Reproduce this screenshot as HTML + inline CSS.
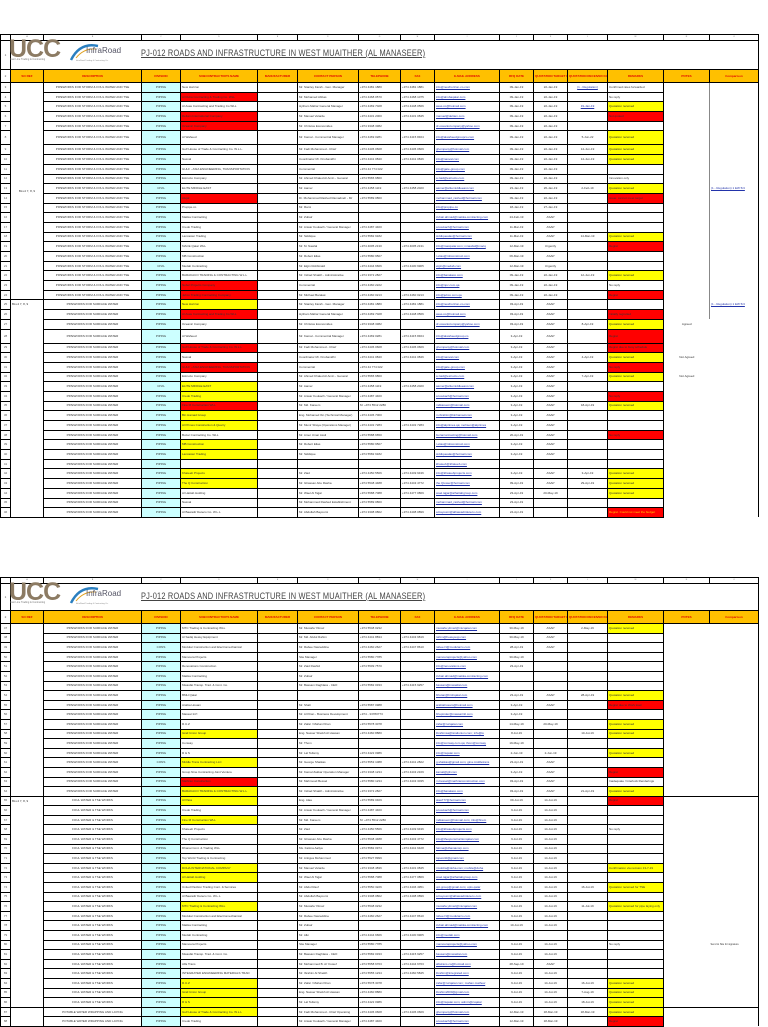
<!DOCTYPE html>
<html><head><meta charset="utf-8"><style>
*{margin:0;padding:0;box-sizing:border-box}
body{width:768px;height:1024px;background:#fff;position:relative;overflow:hidden;font-family:"Liberation Sans",sans-serif}
table{position:absolute;left:0;border-collapse:collapse;table-layout:fixed;width:758px}
td{border:1px solid #000;font-size:3px;line-height:3px;color:#333;white-space:nowrap;overflow:hidden;padding:0 1px;vertical-align:middle}
.c{text-align:center}
.y{background:#ffff00}.r{background:#ff0000}
.e{color:#2233aa;text-decoration:underline}
tr.l td{height:6px;font-size:2px;text-align:center;color:#666}
tr.t td{height:29px}
tr.h td{background:#ffc000;color:#e00000;text-align:center;font-weight:bold;height:13px}
tr.d{height:9.7px}
tr.k{height:14px}
tr.p{height:9.6px}
td.n{border-top:0 none;border-bottom:0 none;border-right:0 none}
td.o{border-top:0 none;border-bottom:0 none;border-left:0 none}
td.og{border-top:0 none;border-bottom:0 none;border-left:1px solid #888}
td.tb{border-top:1px solid #000}
.num{text-align:center;color:#555}
.logo{position:absolute}
.ttl{transform:scaleX(0.79);transform-origin:0 0}
</style></head><body>

<div class="logo" style="left:9px;top:37px;font:bold 25px/25px 'Liberation Sans',sans-serif;color:#8c7b63;letter-spacing:-1px;z-index:2">UCC</div>
<div class="logo" style="left:10px;top:58px;font-size:2.5px;color:#777;z-index:2">Fast Line Trading &amp; Contracting</div>
<svg class="logo" style="left:68px;top:40px;z-index:2" width="60" height="24"><path d="M3 20 Q12 2 30 6" stroke="#2a7fc0" stroke-width="2.5" fill="none"/><path d="M8 18 Q16 8 28 9" stroke="#e0a020" stroke-width="1" fill="none"/><text x="18" y="13" font-size="8" fill="#556" font-family="Liberation Sans">InfraRoad</text><text x="8" y="21" font-size="2" fill="#888" font-family="Liberation Sans">InfraRoad Trading &amp; Contracting Co.</text></svg>
<div class="logo ttl" style="left:141px;top:47px;font-size:9.4px;color:#444;text-decoration:underline;letter-spacing:0.25px;z-index:2;white-space:nowrap">PJ-012 ROADS AND INFRASTRUCTURE IN WEST MUAITHER (AL MANASEER)</div>

<div class="logo" style="left:9px;top:580px;font:bold 25px/25px 'Liberation Sans',sans-serif;color:#8c7b63;letter-spacing:-1px;z-index:2">UCC</div>
<div class="logo" style="left:10px;top:601px;font-size:2.5px;color:#777;z-index:2">Fast Line Trading &amp; Contracting</div>
<svg class="logo" style="left:68px;top:583px;z-index:2" width="60" height="24"><path d="M3 20 Q12 2 30 6" stroke="#2a7fc0" stroke-width="2.5" fill="none"/><path d="M8 18 Q16 8 28 9" stroke="#e0a020" stroke-width="1" fill="none"/><text x="18" y="13" font-size="8" fill="#556" font-family="Liberation Sans">InfraRoad</text><text x="8" y="21" font-size="2" fill="#888" font-family="Liberation Sans">InfraRoad Trading &amp; Contracting Co.</text></svg>
<div class="logo ttl" style="left:141px;top:590px;font-size:9.4px;color:#444;text-decoration:underline;letter-spacing:0.25px;z-index:2;white-space:nowrap">PJ-012 ROADS AND INFRASTRUCTURE IN WEST MUAITHER (AL MANASEER)</div>

<table style="top:34px">
<colgroup><col style="width:10px"><col style="width:33px"><col style="width:98px"><col style="width:39px;background:#ccffff"><col style="width:77px"><col style="width:40px"><col style="width:61px"><col style="width:42px"><col style="width:34px"><col style="width:65px"><col style="width:34px"><col style="width:34px"><col style="width:40px"><col style="width:56px"><col style="width:46px"><col style="width:49px"></colgroup>
<tr class="l"><td></td><td>A</td><td>B</td><td style="background:#fff">C</td><td>D</td><td>E</td><td>F</td><td>G</td><td>H</td><td>I</td><td>J</td><td>K</td><td>L</td><td>M</td><td>N</td><td>O</td></tr>
<tr class="t"><td class="num">1</td><td colspan="15" style="background:#fff"></td></tr>
<tr class="h"><td class="num" style="background:#fff;color:#555;font-weight:normal">2</td><td>SO REF</td><td>DESCRIPTION</td><td>DIVISION</td><td>SUBCONTRACTOR'S NAME</td><td>MANUFACTURER</td><td>CONTACT PERSON</td><td>TELEPHONE</td><td>FAX</td><td>E-MAIL ADDRESS</td><td>RFQ DATE</td><td>QUOTATION TARGET DATE</td><td>QUOTATION RECEIVED DATE</td><td>REMARKS</td><td>POTES</td><td>Comparison</td></tr>
<tr class="d"><td class="num">3</td><td rowspan="22" class="c">BLL4 7, 8, 9</td><td class="c">PIPEWORKS FOR STORM &amp; FOUL WATER AND TSE</td><td class="c">PIPING</td><td>New Horizon</td><td></td><td>Mr. Stanley Farah - Gen. Manager</td><td>+974 4481 1880</td><td>+974 4481 1881</td><td class="e">info@newhorizon-co.com</td><td class="c">09-Jan-19</td><td class="c">22-Jan-19</td><td class="c e">(1 - Regulation)</td><td>Confirmed rates forwarded</td><td class="n"></td><td class="og"></td></tr>
<tr class="d"><td class="num">4</td><td class="c">PIPEWORKS FOR STORM &amp; FOUL WATER AND TSE</td><td class="c">PIPING</td><td class="r">Al Ruba Contracting &amp; Trading Co. WLL</td><td></td><td>Mr. Mohamed Abbas</td><td>+974 4468 0570</td><td>+974 4468 1075</td><td class="e">info@alrubaqatar.com</td><td class="c">09-Jan-19</td><td class="c">22-Jan-19</td><td></td><td>No reply</td><td class="n"></td><td class="og"></td></tr>
<tr class="d"><td class="num">5</td><td class="c">PIPEWORKS FOR STORM &amp; FOUL WATER AND TSE</td><td class="c">PIPING</td><td>Al Asas Contracting and Trading Co WLL</td><td></td><td>Hytham Mahar General Manager</td><td>+974 4469 7028</td><td>+974 4448 0566</td><td class="e">asas.co@hotmail.com</td><td class="c">09-Jan-19</td><td class="c">22-Jan-19</td><td class="c e">19-Jan-19</td><td class="y">Quotation received</td><td class="n"></td><td class="og"></td></tr>
<tr class="d"><td class="num">6</td><td class="c">PIPEWORKS FOR STORM &amp; FOUL WATER AND TSE</td><td class="c">PIPING</td><td class="r">Deltam International Company</td><td></td><td>Mr. Manuel Velarde</td><td>+974 4431 2000</td><td>+974 4431 0845</td><td class="e">manuel@deltam.com</td><td class="c">09-Jan-19</td><td class="c">22-Jan-19</td><td></td><td class="r">Not quoted</td><td class="n"></td><td class="og"></td></tr>
<tr class="d"><td class="num">7</td><td class="c">PIPEWORKS FOR STORM &amp; FOUL WATER AND TSE</td><td class="c">PIPING</td><td class="r">Oceanic Company</td><td></td><td>Mr. Christos Economides</td><td>+974 3348 3382</td><td></td><td class="e">dr.oceaniccompany@yahoo.com</td><td class="c">09-Jan-19</td><td class="c">22-Jan-19</td><td></td><td></td><td class="n"></td><td class="og"></td></tr>
<tr class="k"><td class="num">8</td><td class="c">PIPEWORKS FOR STORM &amp; FOUL WATER AND TSE</td><td class="c">PIPING</td><td>Al Waheed</td><td></td><td>Mr. Kamal - Commercial Manager</td><td>+974 4469 0281</td><td>+974 4415 8464</td><td class="e">info@alwaheedgroupco.com</td><td class="c">09-Jan-19</td><td class="c">22-Jan-19</td><td class="c">5-Jun-22</td><td class="y">Quotation received</td><td class="n"></td><td class="og"></td></tr>
<tr class="d"><td class="num">9</td><td class="c">PIPEWORKS FOR STORM &amp; FOUL WATER AND TSE</td><td class="c">PIPING</td><td>Gulf House of Trade &amp; Contracting Co. W.L.L.</td><td></td><td>Mr. Fadi Mohammed - Chief</td><td>+974 4436 0608</td><td>+974 4436 0609</td><td class="e">ghompany@hotmail.com</td><td class="c">09-Jan-19</td><td class="c">22-Jan-19</td><td class="c">14-Jun-19</td><td class="y">Quotation received</td><td class="n"></td><td class="og"></td></tr>
<tr class="d"><td class="num">10</td><td class="c">PIPEWORKS FOR STORM &amp; FOUL WATER AND TSE</td><td class="c">PIPING</td><td>Nasval</td><td></td><td>Coordinator Mr. Kirubanidhi</td><td>+974 4441 0840</td><td>+974 4441 0846</td><td class="e">info@nasval.com</td><td class="c">09-Jan-19</td><td class="c">22-Jan-19</td><td class="c">14-Jun-19</td><td class="y">Quotation received</td><td class="n"></td><td class="og"></td></tr>
<tr class="d"><td class="num">11</td><td class="c">PIPEWORKS FOR STORM &amp; FOUL WATER AND TSE</td><td class="c">PIPING</td><td>GULF - ASIA ENGINEERING, TRANSPORTATION</td><td></td><td>Commercial</td><td>+974 44 774 022</td><td></td><td class="e">info@gate-group.com</td><td class="c">09-Jan-19</td><td class="c">22-Jan-19</td><td></td><td></td><td class="n"></td><td class="og"></td></tr>
<tr class="d"><td class="num">12</td><td class="c">PIPEWORKS FOR STORM &amp; FOUL WATER AND TSE</td><td class="c">PIPING</td><td>Estructo Company</td><td></td><td>Mr. Ahmed Khaled Al Amin - General</td><td>+974 5565 6860</td><td></td><td class="e">a.zaid@estructo.com</td><td class="c">09-Jan-19</td><td class="c">22-Jan-19</td><td></td><td>Innovation only</td><td class="n"></td><td class="og"></td></tr>
<tr class="d"><td class="num">13</td><td class="c">PIPEWORKS FOR STORM &amp; FOUL WATER AND TSE</td><td class="c">CIVIL</td><td>ELITE MIDDLE EAST</td><td></td><td>Mr. Aamer</td><td>+974 4458 1119</td><td>+974 4458 2020</td><td class="e">aamer@elitemiddleeast.com</td><td class="c">23-Jan-19</td><td class="c">26-Jan-19</td><td class="c">2-Feb-19</td><td class="y">Quotation received</td><td class="n"></td><td class="og e">(1 - Regulation) 1 EW 5/4</td></tr>
<tr class="d"><td class="num">14</td><td class="c">PIPEWORKS FOR STORM &amp; FOUL WATER AND TSE</td><td class="c">PIPING</td><td class="r">Alujal</td><td></td><td>Dr. Mohammad Rashed Ramadneh - Mr</td><td>+974 5589 0860</td><td></td><td class="e">mohammad_rashed@hotmail.com</td><td class="c">09-Jan-19</td><td class="c">22-Jan-19</td><td></td><td class="r">Issue: cannot meet target</td><td class="n"></td><td class="og"></td></tr>
<tr class="d"><td class="num">15</td><td class="c">PIPEWORKS FOR STORM &amp; FOUL WATER AND TSE</td><td class="c">PIPING</td><td>Propipe.co</td><td></td><td>Mr. Rami</td><td></td><td></td><td class="e">info@propipe.co</td><td class="c">18-Jan-19</td><td class="c">27-Jan-19</td><td></td><td></td><td class="n"></td><td class="og"></td></tr>
<tr class="d"><td class="num">16</td><td class="c">PIPEWORKS FOR STORM &amp; FOUL WATER AND TSE</td><td class="c">PIPING</td><td>Makka Contracting</td><td></td><td>Mr. Zubair</td><td></td><td></td><td class="e">zubair.ahmad@makka-contracting.com</td><td class="c">24-Feb-19</td><td class="c">ASAP</td><td></td><td></td><td class="n"></td><td class="og"></td></tr>
<tr class="d"><td class="num">17</td><td class="c">PIPEWORKS FOR STORM &amp; FOUL WATER AND TSE</td><td class="c">PIPING</td><td>Credo Trading</td><td></td><td>Mr. Anwar Koukach / General Manager</td><td>+974 4487 4400</td><td></td><td class="e">a.koukach@hotmail.com</td><td class="c">11-Mar-19</td><td class="c">ASAP</td><td></td><td></td><td class="n"></td><td class="og"></td></tr>
<tr class="d"><td class="num">18</td><td class="c">PIPEWORKS FOR STORM &amp; FOUL WATER AND TSE</td><td class="c">PIPING</td><td>Lancaster Trading</td><td></td><td>Mr. Siddique</td><td>+974 5582 9182</td><td></td><td class="e">siddiquealav@hotmail.com</td><td class="c">11-Mar-19</td><td class="c">ASAP</td><td class="c">14-Mar-19</td><td class="y">Quotation received</td><td class="n"></td><td class="og"></td></tr>
<tr class="d"><td class="num">19</td><td class="c">PIPEWORKS FOR STORM &amp; FOUL WATER AND TSE</td><td class="c">PIPING</td><td>MACE Qatar WLL</td><td></td><td>Mr. M. Nawlal</td><td>+974 4005 2130</td><td>+974 4005 2131</td><td class="e">info@macqatar.com; mnawlal@macq</td><td class="c">12-Mar-19</td><td class="c">Urgently</td><td></td><td class="r">Regret</td><td class="n"></td><td class="og"></td></tr>
<tr class="d"><td class="num">20</td><td class="c">PIPEWORKS FOR STORM &amp; FOUL WATER AND TSE</td><td class="c">PIPING</td><td>MB Construction</td><td></td><td>Mr. Robert Elias</td><td>+974 5580 9507</td><td></td><td class="e">r.elias@mbconstruct.com</td><td class="c">06-Mar-19</td><td class="c">ASAP</td><td></td><td></td><td class="n"></td><td class="og"></td></tr>
<tr class="d"><td class="num">21</td><td class="c">PIPEWORKS FOR STORM &amp; FOUL WATER AND TSE</td><td class="c">CIVIL</td><td>Medab Contracting</td><td></td><td>Mr. Elgin Robbinald</td><td>+974 4444 6666</td><td>+974 4430 9905</td><td class="e">elgin@medab.com</td><td class="c">12-Mar-19</td><td class="c">Urgently</td><td></td><td></td><td class="n"></td><td class="og"></td></tr>
<tr class="d"><td class="num">22</td><td class="c">PIPEWORKS FOR STORM &amp; FOUL WATER AND TSE</td><td class="c">PIPING</td><td>BARAKACO TRADING &amp; CONTRACTING W.L.L</td><td></td><td>Mr. Irshad Shaikh - Administrative</td><td>+974 3372 2827</td><td></td><td class="e">info@barakaco.com</td><td class="c">09-Jan-19</td><td class="c">22-Jan-19</td><td class="c">12-Jun-19</td><td class="y">Quotation received</td><td class="n"></td><td class="og"></td></tr>
<tr class="d"><td class="num">23</td><td class="c">PIPEWORKS FOR STORM &amp; FOUL WATER AND TSE</td><td class="c">PIPING</td><td class="r">Nobel Projects Company</td><td></td><td>Commercial</td><td>+974 4460 2222</td><td></td><td class="e">info@npc.com.qa</td><td class="c">09-Jan-19</td><td class="c">22-Jan-19</td><td></td><td>No reply</td><td class="n"></td><td class="og"></td></tr>
<tr class="d"><td class="num">24</td><td class="c">PIPEWORKS FOR STORM &amp; FOUL WATER AND TSE</td><td class="c">PIPING</td><td class="r">Jebco Trading Contracting Company</td><td></td><td>Mr. Michael Barakat</td><td>+974 4460 0213</td><td>+974 4460 0213</td><td class="e">info@jebco.com.qa</td><td class="c">09-Jan-19</td><td class="c">22-Jan-19</td><td></td><td class="r">Regret</td><td class="n"></td><td class="og"></td></tr>
<tr class="d"><td class="num">25</td><td rowspan="22" style="vertical-align:top;padding-top:3px">BLL4 7, 8, 9</td><td class="c">PIPEWORKS FOR SURFACE WATER</td><td class="c">PIPING</td><td class="y">New Horizon</td><td></td><td>Mr. Stanley Farah - Gen. Manager</td><td>+974 4481 1880</td><td>+974 4481 1881</td><td class="e">info@newhorizon-co.com</td><td class="c">03-Apr-19</td><td class="c">ASAP</td><td></td><td></td><td class="n"></td><td class="og e">(1 - Regulation) 1 EW 5/4</td></tr>
<tr class="d"><td class="num">26</td><td class="c">PIPEWORKS FOR SURFACE WATER</td><td class="c">PIPING</td><td class="r">Al Asas Contracting and Trading Co WLL</td><td></td><td>Hytham Mahar General Manager</td><td>+974 4469 7028</td><td>+974 4448 0566</td><td class="e">asas.co@hotmail.com</td><td class="c">03-Apr-19</td><td class="c">ASAP</td><td></td><td class="r">Initially regretted</td><td class="n"></td><td class="og"></td></tr>
<tr class="d"><td class="num">27</td><td class="c">PIPEWORKS FOR SURFACE WATER</td><td class="c">PIPING</td><td>Oceanic Company</td><td></td><td>Mr. Christos Economides</td><td>+974 3348 3382</td><td></td><td class="e">dr.oceaniccompany@yahoo.com</td><td class="c">03-Apr-19</td><td class="c">ASAP</td><td class="c">8-Apr-19</td><td class="y">Quotation received</td><td class="n c">Agreed</td><td class="o"></td></tr>
<tr class="k"><td class="num">28</td><td class="c">PIPEWORKS FOR SURFACE WATER</td><td class="c">PIPING</td><td>Al Waheed</td><td></td><td>Mr. Kamal - Commercial Manager</td><td>+974 4469 0281</td><td>+974 4415 8464</td><td class="e">info@alwaheedgroup.co</td><td class="c">3-Apr-19</td><td class="c">ASAP</td><td></td><td class="r">Regret</td><td class="n"></td><td class="o"></td></tr>
<tr class="d"><td class="num">29</td><td class="c">PIPEWORKS FOR SURFACE WATER</td><td class="c">PIPING</td><td class="r">Gulf House of Trade &amp; Contracting Co. W.L.L</td><td></td><td>Mr. Fadi Mohammed - Chief</td><td>+974 4436 0608</td><td>+974 4436 0609</td><td class="e">ghompany@hotmail.com</td><td class="c">3-Apr-19</td><td class="c">ASAP</td><td></td><td class="r">Regret due to busy schedule</td><td class="n"></td><td class="o"></td></tr>
<tr class="d"><td class="num">30</td><td class="c">PIPEWORKS FOR SURFACE WATER</td><td class="c">PIPING</td><td>Nasval</td><td></td><td>Coordinator Mr. Kirubanidhi</td><td>+974 4441 0840</td><td>+974 4441 0846</td><td class="e">info@nasval.com</td><td class="c">3-Apr-19</td><td class="c">ASAP</td><td class="c">4-Apr-19</td><td class="y">Quotation received</td><td class="n c">Not Agreed</td><td class="o"></td></tr>
<tr class="d"><td class="num">31</td><td class="c">PIPEWORKS FOR SURFACE WATER</td><td class="c">PIPING</td><td class="r">GULF - ASIA ENGINEERING, TRANSPORTATION</td><td></td><td>Commercial</td><td>+974 44 774 022</td><td></td><td class="e">info@gate-group.com</td><td class="c">3-Apr-19</td><td class="c">ASAP</td><td></td><td class="r">No reply</td><td class="n"></td><td class="o"></td></tr>
<tr class="d"><td class="num">32</td><td class="c">PIPEWORKS FOR SURFACE WATER</td><td class="c">PIPING</td><td>Estructo Company</td><td></td><td>Mr. Ahmed Khaled Al Amin - General</td><td>+974 5565 6860</td><td></td><td class="e">a.zaid@estructo.com</td><td class="c">3-Apr-19</td><td class="c">ASAP</td><td class="c">7-Apr-19</td><td class="y">Quotation received</td><td class="n c">Not Agreed</td><td class="o"></td></tr>
<tr class="d"><td class="num">33</td><td class="c">PIPEWORKS FOR SURFACE WATER</td><td class="c">CIVIL</td><td class="y">ELITE MIDDLE EAST</td><td></td><td>Mr. Aamer</td><td>+974 4458 1119</td><td>+974 4458 2020</td><td class="e">aamer@elitemiddleeast.com</td><td class="c">3-Apr-19</td><td class="c">ASAP</td><td></td><td></td><td class="n"></td><td class="o"></td></tr>
<tr class="d"><td class="num">34</td><td class="c">PIPEWORKS FOR SURFACE WATER</td><td class="c">PIPING</td><td class="y">Credo Trading</td><td></td><td>Mr. Anwar Koukach / General Manager</td><td>+974 4487 4400</td><td></td><td class="e">a.koukach@hotmail.com</td><td class="c">3-Apr-19</td><td class="c">ASAP</td><td></td><td class="r">No reply</td><td class="n"></td><td class="o"></td></tr>
<tr class="d"><td class="num">35</td><td class="c">PIPEWORKS FOR SURFACE WATER</td><td class="c">PIPING</td><td class="r">Fine M Construction WLL</td><td></td><td>Mr. Md. Kareem</td><td>M: +974 5512 2280</td><td></td><td class="e">mdkareem@hotmail.com</td><td class="c">3-Apr-19</td><td class="c">ASAP</td><td class="c">18-Apr-19</td><td class="y">Quotation received</td><td class="n"></td><td class="o"></td></tr>
<tr class="d"><td class="num">36</td><td class="c">PIPEWORKS FOR SURFACE WATER</td><td class="c">PIPING</td><td class="y">Bin Hamad Group</td><td></td><td>Eng. Mohamed Ibn (Technical Manager)</td><td>+974 4436 7000</td><td></td><td class="e">m.ibrahim@binhamad.com</td><td class="c">3-Apr-19</td><td class="c">ASAP</td><td></td><td></td><td class="n"></td><td class="o"></td></tr>
<tr class="d"><td class="num">37</td><td class="c">PIPEWORKS FOR SURFACE WATER</td><td class="c">PIPING</td><td class="y">Al Primes Construction &amp; Quarry</td><td></td><td>Mr. Munir Shaya (Operations Manager)</td><td>+974 4432 7283</td><td>+974 4432 7283</td><td class="e">info@alprimes.qa; mohsen@alprimes</td><td class="c">3-Apr-19</td><td class="c">ASAP</td><td></td><td></td><td class="n"></td><td class="o"></td></tr>
<tr class="d"><td class="num">38</td><td class="c">PIPEWORKS FOR SURFACE WATER</td><td class="c">PIPING</td><td>Buzar Contracting Co. WLL</td><td></td><td>Mr. Amer Umar Assil</td><td>+974 5588 6650</td><td></td><td class="e">buzarcontracting@hotmail.com</td><td class="c">20-Apr-19</td><td class="c">ASAP</td><td></td><td class="r">No reply</td><td class="n"></td><td class="o"></td></tr>
<tr class="d"><td class="num">39</td><td class="c">PIPEWORKS FOR SURFACE WATER</td><td class="c">PIPING</td><td class="y">MB Construction</td><td></td><td>Mr. Robert Elias</td><td>+974 5580 9507</td><td></td><td class="e">r.elias@mbconstruct.com</td><td class="c">3-Apr-19</td><td class="c">ASAP</td><td></td><td></td><td class="n"></td><td class="o"></td></tr>
<tr class="d"><td class="num">40</td><td class="c">PIPEWORKS FOR SURFACE WATER</td><td class="c">PIPING</td><td class="y">Lancaster Trading</td><td></td><td>Mr. Siddique</td><td>+974 5582 9182</td><td></td><td class="e">siddiquealav@hotmail.com</td><td class="c">3-Apr-19</td><td class="c">ASAP</td><td></td><td></td><td class="n"></td><td class="o"></td></tr>
<tr class="d"><td class="num">41</td><td class="c">PIPEWORKS FOR SURFACE WATER</td><td class="c">PIPING</td><td></td><td></td><td></td><td></td><td></td><td class="e">khateeb@khateeb.com</td><td></td><td></td><td></td><td></td><td class="n"></td><td class="o"></td></tr>
<tr class="d"><td class="num">42</td><td class="c">PIPEWORKS FOR SURFACE WATER</td><td class="c">PIPING</td><td class="y">Khateeb Projects</td><td></td><td>Mr. Ziad</td><td>+974 4450 5566</td><td>+974 4449 9436</td><td class="e">info@khateebprojects.com</td><td class="c">3-Apr-19</td><td class="c">ASAP</td><td class="c">3-Apr-19</td><td class="y">Quotation received</td><td class="n"></td><td class="o"></td></tr>
<tr class="d"><td class="num">43</td><td class="c">PIPEWORKS FOR SURFACE WATER</td><td class="c">PIPING</td><td class="y">The Q Construction</td><td></td><td>Mr. Ghassan Abu Rasha</td><td>+974 5548 4488</td><td>+974 4443 4772</td><td class="e">the.Qtower@hotmail.com</td><td class="c">09-Apr-19</td><td class="c">ASAP</td><td class="c">29-Apr-19</td><td class="y">Quotation received</td><td class="n"></td><td class="o"></td></tr>
<tr class="d"><td class="num">44</td><td class="c">PIPEWORKS FOR SURFACE WATER</td><td class="c">PIPING</td><td>Al Hattab Holding</td><td></td><td>Mr. Wael Al Tajjar</td><td>+974 5588 7088</td><td>+974 4477 0869</td><td class="e">wael.tajjar@alhattabgroup.com</td><td class="c">23-Apr-19</td><td class="c">20-May-19</td><td></td><td class="y">Quotation received</td><td class="n"></td><td class="o"></td></tr>
<tr class="d"><td class="num">45</td><td class="c">PIPEWORKS FOR SURFACE WATER</td><td class="c">PIPING</td><td>Nasval</td><td></td><td>Mr. Mohammed Rashed Establishment</td><td>+974 5589 0860</td><td></td><td class="e">mohammad_rashed@hotmail.com</td><td class="c">23-Apr-19</td><td></td><td></td><td></td><td class="n"></td><td class="o"></td></tr>
<tr class="d"><td class="num">46</td><td class="c">PIPEWORKS FOR SURFACE WATER</td><td class="c">PIPING</td><td>Al Bawadir Deteco Co. W.L.L</td><td></td><td>Mr. Abdullah Bayoumi</td><td>+974 3308 0802</td><td>+974 4408 0899</td><td class="e">a.bayoumi@albawadirdeteco.com</td><td class="c">24-Apr-19</td><td></td><td></td><td class="r" style="color:#ffd000">Regret. Could not meet the budget</td><td class="n"></td><td class="o"></td></tr>
</table>

<table style="top:577px">
<colgroup><col style="width:10px"><col style="width:33px"><col style="width:98px"><col style="width:39px;background:#ccffff"><col style="width:77px"><col style="width:40px"><col style="width:61px"><col style="width:42px"><col style="width:34px"><col style="width:65px"><col style="width:34px"><col style="width:34px"><col style="width:40px"><col style="width:56px"><col style="width:46px"><col style="width:49px"></colgroup>
<tr class="l"><td></td><td>A</td><td>B</td><td style="background:#fff">C</td><td>D</td><td>E</td><td>F</td><td>G</td><td>H</td><td>I</td><td>J</td><td>K</td><td>L</td><td>M</td><td>N</td><td>O</td></tr>
<tr class="t" style="height:27px"><td class="num" style="height:27px">1</td><td colspan="15" style="background:#fff;height:27px"></td></tr>
<tr class="h"><td class="num" style="background:#fff;color:#555;font-weight:normal;height:12px">2</td><td style="height:12px">SO REF</td><td>DESCRIPTION</td><td>DIVISION</td><td>SUBCONTRACTOR'S NAME</td><td>MANUFACTURER</td><td>CONTACT PERSON</td><td>TELEPHONE</td><td>FAX</td><td>E-MAIL ADDRESS</td><td>RFQ DATE</td><td>QUOTATION TARGET DATE</td><td>QUOTATION RECEIVED DATE</td><td>REMARKS</td><td>POTES</td><td>Comparison</td></tr>
<tr class="p"><td class="num">47</td><td rowspan="18"></td><td class="c">PIPEWORKS FOR SURFACE WATER</td><td class="c">PIPING</td><td>MTC Trading &amp; Contracting WLL</td><td></td><td>Mr. Mustafa Yilmaz</td><td>+974 5548 0232</td><td></td><td class="e">mustafa.yilmaz@mtcqatar.com</td><td class="c">30-May-19</td><td class="c">ASAP</td><td class="c">2-May-19</td><td class="y">Quotation received</td><td class="n"></td><td class="o"></td></tr>
<tr class="p"><td class="num">48</td><td class="c">PIPEWORKS FOR SURFACE WATER</td><td class="c">PIPING</td><td>Al Sadiq Heavy Equipment</td><td></td><td>Mr. Md. Abdul Rahim</td><td>+974 4441 8834</td><td>+974 4443 9819</td><td class="e">rahim@heavyeqp.com</td><td class="c">30-May-19</td><td class="c">ASAP</td><td></td><td></td><td class="n"></td><td class="o"></td></tr>
<tr class="p"><td class="num">49</td><td class="c">PIPEWORKS FOR SURFACE WATER</td><td class="c">CONS</td><td>Modular Construction and Electromechanical</td><td></td><td>Mr. Rabee Nasreddine</td><td>+974 4460 2627</td><td>+974 4447 8610</td><td class="e">rabee.N@modularco.com</td><td class="c">28-Apr-19</td><td class="c">ASAP</td><td></td><td></td><td class="n"></td><td class="o"></td></tr>
<tr class="p"><td class="num">50</td><td class="c">PIPEWORKS FOR SURFACE WATER</td><td class="c">PIPING</td><td>Mamoura Projects</td><td></td><td>Site Manager</td><td>+974 5580 7785</td><td></td><td class="e">mamouraprojects@yahoo.com</td><td class="c">30-May-19</td><td></td><td></td><td></td><td class="n"></td><td class="o"></td></tr>
<tr class="p"><td class="num">51</td><td class="c">PIPEWORKS FOR SURFACE WATER</td><td class="c">PIPING</td><td>Renovations Construction</td><td></td><td>Mr. Zaid Rashid</td><td>+974 5509 7570</td><td></td><td class="e">info@renovations.com</td><td class="c">23-Apr-19</td><td></td><td></td><td></td><td class="n"></td><td class="o"></td></tr>
<tr class="p"><td class="num">52</td><td class="c">PIPEWORKS FOR SURFACE WATER</td><td class="c">PIPING</td><td>Makka Contracting</td><td></td><td>Mr. Zubair</td><td></td><td></td><td class="e">zubair.ahmad@makka-contracting.com</td><td></td><td></td><td></td><td></td><td class="n"></td><td class="o"></td></tr>
<tr class="p"><td class="num">53</td><td class="c">PIPEWORKS FOR SURFACE WATER</td><td class="c">PIPING</td><td>Mwasfat Transp. Trad. &amp; Cont. Co.</td><td></td><td>Mr. Bassam Daghlass - CEO</td><td>+974 5582 0333</td><td>+974 4415 9257</td><td class="e">bassam@mwasfat.com</td><td></td><td></td><td></td><td></td><td class="n"></td><td class="o"></td></tr>
<tr class="p"><td class="num">54</td><td class="c">PIPEWORKS FOR SURFACE WATER</td><td class="c">PIPING</td><td>BMH Qatar</td><td></td><td></td><td></td><td></td><td class="e">bhutan@bmhqatar.com</td><td class="c">23-Apr-19</td><td class="c">ASAP</td><td class="c">28-Apr-19</td><td class="y">Quotation received</td><td class="n"></td><td class="o"></td></tr>
<tr class="p"><td class="num">55</td><td class="c">PIPEWORKS FOR SURFACE WATER</td><td class="c">PIPING</td><td>Arabia Hosam</td><td></td><td>Mr. Shah</td><td>+974 5587 0988</td><td></td><td class="e">arabiahosam@hotmail.com</td><td class="c">3-Apr-19</td><td class="c">ASAP</td><td></td><td class="r">Regret due to Work load</td><td class="n"></td><td class="o"></td></tr>
<tr class="p"><td class="num">56</td><td class="c">PIPEWORKS FOR SURFACE WATER</td><td class="c">PIPING</td><td>Massar Int'l</td><td></td><td>Mr. Al Khan - Business Development</td><td>+974 - 33780773</td><td></td><td class="e">bhupinder@massarintl.com</td><td class="c">3-Apr-19</td><td></td><td></td><td></td><td class="n"></td><td class="o"></td></tr>
<tr class="p"><td class="num">57</td><td class="c">PIPEWORKS FOR SURFACE WATER</td><td class="c">PIPING</td><td>R.U.Z</td><td></td><td>Mr. Zafar / Mahan Khan</td><td>+974 5578 3078</td><td></td><td class="e">zafar@ruzqatar.com</td><td class="c">14-May-19</td><td class="c">20-May-19</td><td></td><td class="y">Quotation received</td><td class="n"></td><td class="o"></td></tr>
<tr class="p"><td class="num">58</td><td class="c">PIPEWORKS FOR SURFACE WATER</td><td class="c">PIPING</td><td class="y">Israil Union Group</td><td></td><td>Eng. Nasser Sheikh Al Hassan</td><td>+974 4460 8880</td><td></td><td class="e">ibrahimsa@israilunion.com; info@iu</td><td class="c">8-Jul-19</td><td></td><td class="c">10-Jul-19</td><td class="y">Quotation received</td><td class="n"></td><td class="o"></td></tr>
<tr class="p"><td class="num">59</td><td class="c">PIPEWORKS FOR SURFACE WATER</td><td class="c">PIPING</td><td>Conway</td><td></td><td>Mr. Thom</td><td></td><td></td><td class="e">info@conway.com.qa; thom@conway</td><td class="c">19-May-19</td><td></td><td></td><td></td><td class="n"></td><td class="o"></td></tr>
<tr class="p"><td class="num">60</td><td class="c">PIPEWORKS FOR SURFACE WATER</td><td class="c">PIPING</td><td>R &amp; S</td><td></td><td>Mr. Lal Tellamy</td><td>+974 4422 0986</td><td></td><td class="e">info@rsqatar.com</td><td class="c">2-Jun-19</td><td class="c">2-Jun-19</td><td></td><td class="y">Quotation received</td><td class="n"></td><td class="o"></td></tr>
<tr class="p"><td class="num">61</td><td class="c">PIPEWORKS FOR SURFACE WATER</td><td class="c">CONS</td><td class="y">Middle Trans Contracting LLC</td><td></td><td>Mr. George Shatkas</td><td>+974 5553 1088</td><td>+974 4441 2822</td><td class="e">g.shatkas@gmail.com; gina.middletrans</td><td class="c">23-Apr-19</td><td class="c">ASAP</td><td></td><td></td><td class="n"></td><td class="o"></td></tr>
<tr class="p"><td class="num">62</td><td class="c">PIPEWORKS FOR SURFACE WATER</td><td class="c">PIPING</td><td>Group Nine Contracting Joint Venture</td><td></td><td>Mr. Kamal Zakkar Operation Manager</td><td>+974 3348 1234</td><td>+974 4443 2169</td><td class="e">kamal@g9.com</td><td class="c">3-Apr-19</td><td class="c">ASAP</td><td></td><td class="r">Regret</td><td class="n"></td><td class="o"></td></tr>
<tr class="p"><td class="num">63</td><td class="c">PIPEWORKS FOR SURFACE WATER</td><td class="c">PIPING</td><td class="r">Mathran Construction</td><td></td><td>Mr. Mahmoud Bessel</td><td>+974 5580 1234</td><td>+974 4443 3035</td><td class="e">m.bessel@mathranconstruction.com</td><td class="c">03-Apr-19</td><td class="c">ASAP</td><td></td><td>Inadequate / Interlock Renderings</td><td class="n"></td><td class="o"></td></tr>
<tr class="p"><td class="num">64</td><td class="c">PIPEWORKS FOR SURFACE WATER</td><td class="c">PIPING</td><td class="y">BARAKACO TRADING &amp; CONTRACTING W.L.L</td><td></td><td>Mr. Irshad Shaikh - Administrative</td><td>+974 3372 2827</td><td></td><td class="e">info@barakaco.com</td><td class="c">03-Apr-19</td><td class="c">ASAP</td><td class="c">21-Apr-19</td><td class="y">Quotation received</td><td class="n"></td><td class="o"></td></tr>
<tr class="p"><td class="num">65</td><td rowspan="22" style="vertical-align:top;padding-top:3px">BLL4 7, 8, 9</td><td class="c">FOUL WATER &amp; TSE WORKS</td><td class="c">PIPING</td><td class="y">Al Pass</td><td></td><td>Eng. Alaa</td><td>+974 5589 0409</td><td></td><td class="e">alaa777@hotmail.com</td><td class="c">09-Jul-19</td><td class="c">14-Jul-19</td><td></td><td class="r">Regret</td><td class="n tb"></td><td class="o tb"></td></tr>
<tr class="p"><td class="num">66</td><td class="c">FOUL WATER &amp; TSE WORKS</td><td class="c">PIPING</td><td>Credo Trading</td><td></td><td>Mr. Anwar Koukach / General Manager</td><td>+974 4487 4400</td><td></td><td class="e">a.koukach@hotmail.com</td><td class="c">9-Jul-19</td><td class="c">14-Jul-19</td><td></td><td></td><td class="n"></td><td class="o"></td></tr>
<tr class="p"><td class="num">67</td><td class="c">FOUL WATER &amp; TSE WORKS</td><td class="c">PIPING</td><td class="y">Fine M Construction WLL</td><td></td><td>Mr. Md. Kareem</td><td>M: +974 5512 2280</td><td></td><td class="e">mdkareem@hotmail.com; info@finem</td><td class="c">9-Jul-19</td><td class="c">14-Jul-19</td><td></td><td></td><td class="n"></td><td class="o"></td></tr>
<tr class="p"><td class="num">68</td><td class="c">FOUL WATER &amp; TSE WORKS</td><td class="c">PIPING</td><td>Khateeb Projects</td><td></td><td>Mr. Ziad</td><td>+974 4450 5566</td><td>+974 4449 9436</td><td class="e">info@khateebprojects.com</td><td class="c">9-Jul-19</td><td class="c">14-Jul-19</td><td></td><td>No reply</td><td class="n"></td><td class="o"></td></tr>
<tr class="p"><td class="num">69</td><td class="c">FOUL WATER &amp; TSE WORKS</td><td class="c">PIPING</td><td>The Q Construction</td><td></td><td>Mr. Ghassan Abu Rasha</td><td>+974 5548 4488</td><td>+974 4443 4772</td><td class="e">info@theqconstructionqatar.com</td><td class="c">9-Jul-19</td><td class="c">14-Jul-19</td><td></td><td></td><td class="n"></td><td class="o"></td></tr>
<tr class="p"><td class="num">70</td><td class="c">FOUL WATER &amp; TSE WORKS</td><td class="c">PIPING</td><td>Dhanai Cont. &amp; Trading WLL</td><td></td><td>Ms. Fatima Aaliya</td><td>+974 5582 0974</td><td>+974 4441 6428</td><td class="e">fatima@dhanaicorp.com</td><td class="c">9-Jul-19</td><td class="c">14-Jul-19</td><td></td><td></td><td class="n"></td><td class="o"></td></tr>
<tr class="p"><td class="num">71</td><td class="c">FOUL WATER &amp; TSE WORKS</td><td class="c">PIPING</td><td>Top World Trading &amp; Contracting</td><td></td><td>Mr. Antigua Mohammed</td><td>+974 5527 8999</td><td></td><td class="e">topworld@gmail.com</td><td class="c">9-Jul-19</td><td class="c">14-Jul-19</td><td></td><td></td><td class="n"></td><td class="o"></td></tr>
<tr class="p"><td class="num">72</td><td class="c">FOUL WATER &amp; TSE WORKS</td><td class="c">PIPING</td><td class="y">DOHA INTERNATIONAL COMPANY</td><td></td><td>Mr. Manuel Velarde</td><td>+974 3348 4836</td><td>+974 4431 0845</td><td class="e">mvdoha@doha.com; mobile@doha</td><td class="c">9-Jul-19</td><td class="c">14-Jul-19</td><td></td><td class="y">Confirmation via revision 13-7-19</td><td class="n"></td><td class="o"></td></tr>
<tr class="p"><td class="num">73</td><td class="c">FOUL WATER &amp; TSE WORKS</td><td class="c">PIPING</td><td class="y">Al Hattab Holding</td><td></td><td>Mr. Wael Al Tajjar</td><td>+974 5588 7088</td><td>+974 4477 0869</td><td class="e">wael.tajjar@alhattabgroup.com</td><td class="c">9-Jul-19</td><td class="c">14-Jul-19</td><td></td><td></td><td class="n"></td><td class="o"></td></tr>
<tr class="p"><td class="num">74</td><td class="c">FOUL WATER &amp; TSE WORKS</td><td class="c">PIPING</td><td>United Pavilion Trading Cont. &amp; Services</td><td></td><td>Mr. Abdul Rauf</td><td>+974 5550 3226</td><td>+974 4446 4951</td><td class="e">upt.group@gmail.com; upts.qatar</td><td class="c">9-Jul-19</td><td class="c">14-Jul-19</td><td class="c">16-Jul-19</td><td class="y">Quotation received for TSE</td><td class="n"></td><td class="o"></td></tr>
<tr class="p"><td class="num">75</td><td class="c">FOUL WATER &amp; TSE WORKS</td><td class="c">PIPING</td><td>Al Bawadir Deteco Co. W.L.L</td><td></td><td>Mr. Abdullah Bayoumi</td><td>+974 3308 0802</td><td>+974 4408 0899</td><td class="e">a.bayoumi@albawadirdeteco.com</td><td class="c">9-Jul-19</td><td class="c">14-Jul-19</td><td></td><td></td><td class="n"></td><td class="o"></td></tr>
<tr class="p"><td class="num">76</td><td class="c">FOUL WATER &amp; TSE WORKS</td><td class="c">PIPING</td><td class="y">MTC Trading &amp; Contracting WLL</td><td></td><td>Mr. Mustafa Yilmaz</td><td>+974 5548 0232</td><td></td><td class="e">mustafa.yilmaz@mtcqatar.com</td><td class="c">9-Jul-19</td><td class="c">14-Jul-19</td><td class="c">11-Jul-19</td><td class="y">Quotation received for pipe laying only</td><td class="n"></td><td class="o"></td></tr>
<tr class="p"><td class="num">77</td><td class="c">FOUL WATER &amp; TSE WORKS</td><td class="c">PIPING</td><td>Modular Construction and Electromechanical</td><td></td><td>Mr. Rabee Nasreddine</td><td>+974 4460 2627</td><td>+974 4447 8610</td><td class="e">rabee.N@modularco.com</td><td class="c">9-Jul-19</td><td class="c">14-Jul-19</td><td></td><td></td><td class="n"></td><td class="o"></td></tr>
<tr class="p"><td class="num">78</td><td class="c">FOUL WATER &amp; TSE WORKS</td><td class="c">PIPING</td><td>Makka Contracting</td><td></td><td>Mr. Zubair</td><td></td><td></td><td class="e">zubair.ahmad@makka-contracting.com</td><td class="c">10-Jul-19</td><td class="c">14-Jul-19</td><td></td><td></td><td class="n"></td><td class="o"></td></tr>
<tr class="p"><td class="num">79</td><td class="c">FOUL WATER &amp; TSE WORKS</td><td class="c">PIPING</td><td>Medab Contracting</td><td></td><td>Mr. Alki</td><td>+974 4444 6666</td><td>+974 4430 9905</td><td class="e">info@medab.com</td><td></td><td></td><td></td><td></td><td class="n"></td><td class="o"></td></tr>
<tr class="p"><td class="num">80</td><td class="c">FOUL WATER &amp; TSE WORKS</td><td class="c">PIPING</td><td>Mamoura Projects</td><td></td><td>Site Manager</td><td>+974 5580 7785</td><td></td><td class="e">mamouraprojects@yahoo.com</td><td class="c">9-Jul-19</td><td class="c">14-Jul-19</td><td></td><td>No reply</td><td class="n"></td><td class="o" style="font-size:2.5px">Send to Site for signature</td></tr>
<tr class="p"><td class="num">81</td><td class="c">FOUL WATER &amp; TSE WORKS</td><td class="c">PIPING</td><td>Mwasfat Transp. Trad. &amp; Cont. Co.</td><td></td><td>Mr. Bassam Daghlass - CEO</td><td>+974 5582 0333</td><td>+974 4415 9257</td><td class="e">bassam@mwasfat.com</td><td class="c">9-Jul-19</td><td class="c">14-Jul-19</td><td></td><td></td><td class="n"></td><td class="o"></td></tr>
<tr class="p"><td class="num">82</td><td class="c">FOUL WATER &amp; TSE WORKS</td><td class="c">PIPING</td><td>Alfa Trans</td><td></td><td>Mr. Mohammed B. Al Yousef</td><td>+974 5558 6763</td><td>+974 4444 6763</td><td class="e">alfatrans.co@hotmail.com</td><td class="c">28-Sep-19</td><td class="c">ASAP</td><td></td><td></td><td class="n"></td><td class="o"></td></tr>
<tr class="p"><td class="num">83</td><td class="c">FOUL WATER &amp; TSE WORKS</td><td class="c">PIPING</td><td>INTEGRATED ENGINEERING MATERIALS TRAD</td><td></td><td>Mr. Ibrahim Al Sheikh</td><td>+974 5555 1234</td><td>+974 4460 5845</td><td class="e">ibrahim@integrated.com</td><td class="c">9-Jul-19</td><td class="c">14-Jul-19</td><td></td><td></td><td class="n"></td><td class="o"></td></tr>
<tr class="p"><td class="num">84</td><td class="c">FOUL WATER &amp; TSE WORKS</td><td class="c">PIPING</td><td class="y">R.U.Z</td><td></td><td>Mr. Zafar / Mahan Khan</td><td>+974 5578 3078</td><td></td><td class="e">zafar@ruzqatar.com; mahan.mathew</td><td class="c">9-Jul-19</td><td class="c">14-Jul-19</td><td class="c">16-Jul-19</td><td class="y">Quotation received</td><td class="n"></td><td class="o"></td></tr>
<tr class="p"><td class="num">85</td><td class="c">FOUL WATER &amp; TSE WORKS</td><td class="c">PIPING</td><td class="y">Israil Union Group</td><td></td><td>Eng. Nasser Sheikh Al Hassan</td><td>+974 4460 8880</td><td></td><td class="e">ibrahim2000@gmail.com</td><td class="c">9-Jul-19</td><td class="c">14-Jul-19</td><td class="c">7-Aug-19</td><td class="y">Quotation received</td><td class="n"></td><td class="o"></td></tr>
<tr class="p"><td class="num">86</td><td class="c">FOUL WATER &amp; TSE WORKS</td><td class="c">PIPING</td><td class="y">R &amp; S</td><td></td><td>Mr. Lal Tellamy</td><td>+974 4422 0986</td><td></td><td class="e">info@rsqatar.com; admin@rsqatar</td><td class="c">9-Jul-19</td><td class="c">14-Jul-19</td><td class="c">18-Jul-19</td><td class="y">Quotation received</td><td class="n"></td><td class="o"></td></tr>
<tr class="p"><td class="num">87</td><td rowspan="2"></td><td class="c">POTABLE WATER WRAPPING AND LAYING</td><td class="c">PIPING</td><td class="y">Gulf House of Trade &amp; Contracting Co. W.L.L</td><td></td><td>Mr. Fadi Mohammed - Chief Operating</td><td>+974 4436 0608</td><td>+974 4436 0609</td><td class="e">ghompany@hotmail.com</td><td class="c">12-Mar-19</td><td class="c">18-Mar-19</td><td class="c">18-Mar-19</td><td class="y">Quotation received</td><td class="n tb"></td><td class="o tb"></td></tr>
<tr class="p"><td class="num">88</td><td class="c">POTABLE WATER WRAPPING AND LAYING</td><td class="c">PIPING</td><td>Credo Trading</td><td></td><td>Mr. Anwar Koukach / General Manager</td><td>+974 4487 4400</td><td></td><td class="e">a.koukach@hotmail.com</td><td class="c">12-Mar-19</td><td class="c">18-Mar-19</td><td></td><td class="r">Regret</td><td class="n"></td><td class="o"></td></tr>
</table>
</body></html>
